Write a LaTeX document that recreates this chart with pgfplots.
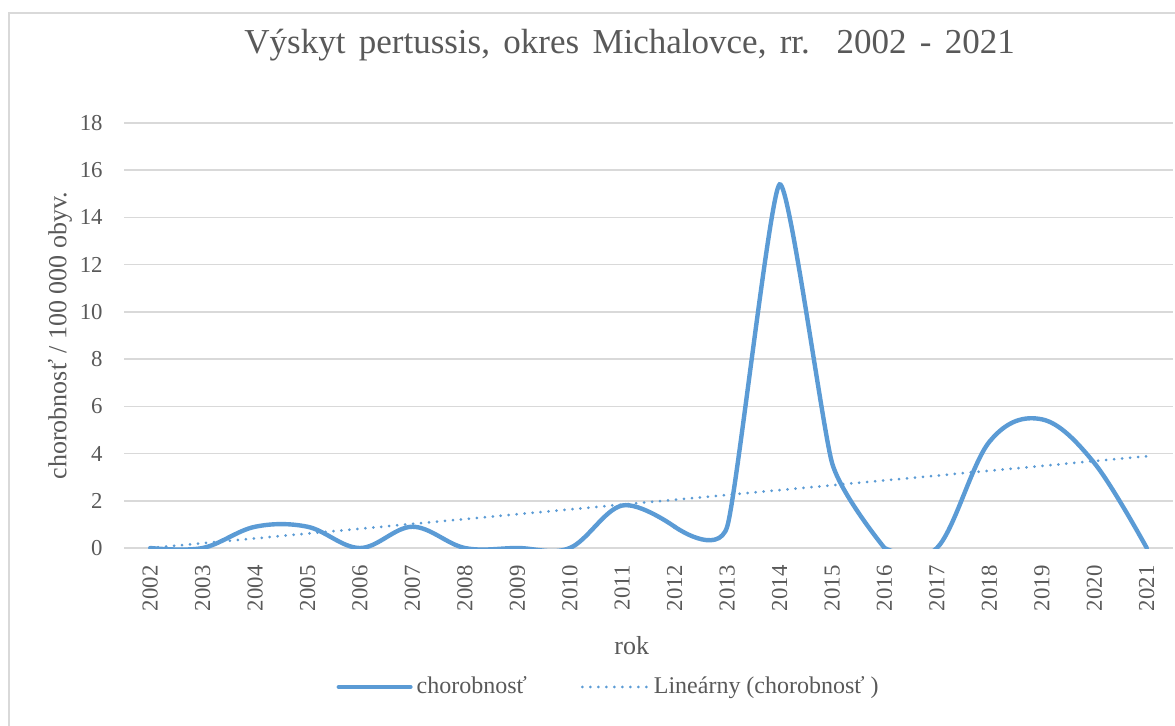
\documentclass[border=0pt]{standalone}
\usepackage{pgfplots}
\pgfplotsset{compat=1.18}
\usepackage{pgfplotstable}
\usepackage{fontspec}
\setmainfont{Liberation Serif}
\definecolor{xblue}{HTML}{5B9BD5}
\definecolor{xtext}{HTML}{595959}
\definecolor{xgrid}{HTML}{D9D9D9}
\newcommand\widesp{\spaceskip=0.38em\relax}

\pgfplotstableread{
x y
0 0
1 0
2 0.9
3 0.9
4 0
5 0.9
6 0
7 0
8 0
9 1.8
10 0.9
11 0.9
12 15.4
13 3.6
14 0
15 0
16 4.5
17 5.45
18 3.6
19 0
}\data

\begin{document}
\begin{tikzpicture}[x=1pt,y=1pt]
\useasboundingbox (0,0) rectangle (587.5,362.5);
\draw[xgrid, line width=0.8pt] (4.5,-5) -- (4.5,356) -- (600,356);
\begin{axis}[
  at={(62pt,88.5pt)}, anchor=south west, scale only axis,
  width=524.5pt, height=212.5pt,
  xmin=-0.5, xmax=19.5, ymin=0, ymax=18,
  ytick={0,2,...,18},
  xtick={0,...,19},
  xticklabels={2002,2003,2004,2005,2006,2007,2008,2009,2010,2011,2012,2013,2014,2015,2016,2017,2018,2019,2020,2021},
  axis line style={draw=none},
  major tick length=0pt,
  ymajorgrids, grid style={xgrid, line width=0.75pt},
  /pgf/number format/assume math mode=true,
  tick label style={font=\fontsize{11.4}{13}\selectfont, text=xtext, inner sep=0pt},
  yticklabel shift=10.5pt,
  xticklabel shift=8.5pt,
  xticklabel style={rotate=90, anchor=east},
  xlabel={rok},
  xlabel style={at={(axis description cs:0.484,-0.23)}, anchor=center, font=\fontsize{13}{15}\selectfont, text=xtext},
  ylabel={chorobnosť / 100 000 obyv.},
  ylabel style={at={(axis description cs:-0.061,0.5)}, anchor=center, font=\fontsize{13}{15}\selectfont, text=xtext},
  title={\widesp Výskyt pertussis, okres Michalovce, rr.\ \ 2002 - 2021},
  title style={at={(axis description cs:0.482,1.155)}, anchor=center, yshift=0pt,
    font=\fontsize{17.5}{20}\selectfont, text=xtext},
  legend style={at={(axis description cs:0.463,-0.327)}, anchor=center, draw=none, fill=none,
    font=\fontsize{12}{14}\selectfont, text=xtext, nodes={text=xtext},
    /tikz/every even column/.append style={column sep=25pt}},
  legend columns=2,
  legend cell align=left,
]
\addplot[xblue, line width=2.2pt, line cap=round, smooth, tension=0.6,
  restrict x to domain=0:10,
  legend image code/.code={\draw[xblue, line width=2pt, line cap=round] (0pt,0pt) -- (36pt,0pt);}]
  table[x=x, y=y]{\data};
\addlegendentry{chorobnosť}
\addplot[xblue, line width=2.2pt, line cap=round, smooth, tension=0.32,
  restrict x to domain=10:14, forget plot]
  table[x=x, y=y]{\data};
\addplot[xblue, line width=2.2pt, line cap=round, smooth, tension=0.6,
  restrict x to domain=14:19, forget plot]
  table[x=x, y=y]{\data};
\addplot[xblue, line width=1.5pt, line cap=round, dash pattern=on 0pt off 4pt,
  legend image code/.code={\draw[xblue, line width=1.5pt, line cap=round, dash pattern=on 0pt off 4pt] (0pt,0pt) -- (33pt,0pt);}]
  table[x=x, y={create col/linear regression={y=y}}]{\data};
\addlegendentry{Lineárny (chorobnosť )}
\end{axis}
\end{tikzpicture}
\end{document}
